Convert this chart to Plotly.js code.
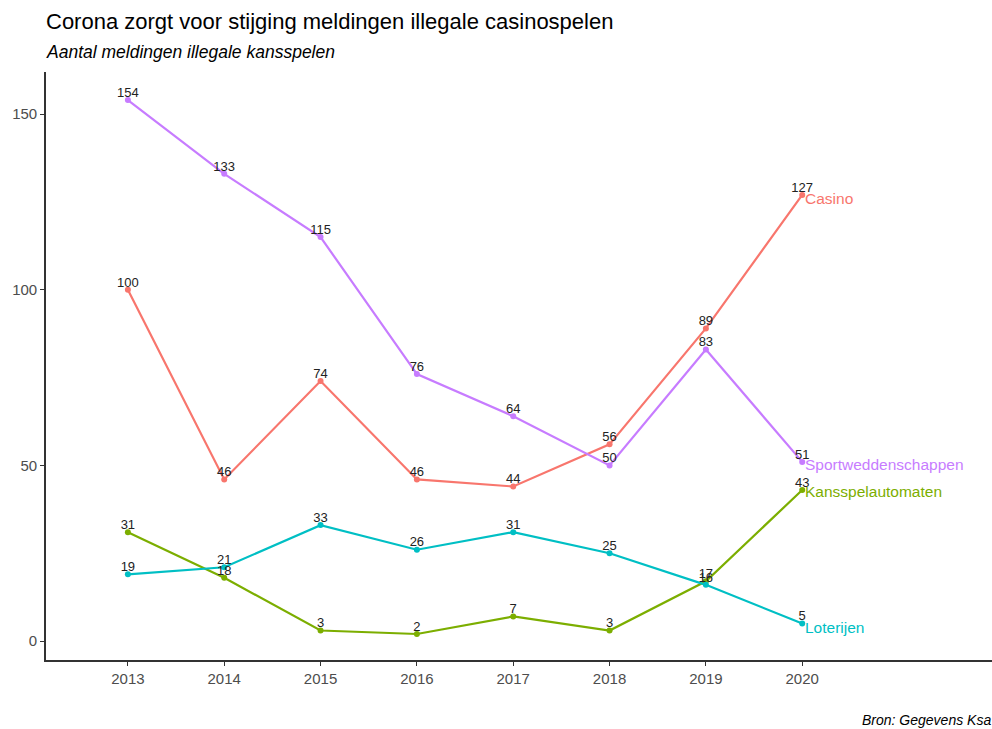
<!DOCTYPE html>
<html>
<head>
<meta charset="utf-8">
<script src="https://cdn.plot.ly/plotly-3.0.1.min.js"></script>
<style>
  html, body { margin: 0; padding: 0; background: #ffffff; }
  #chart { width: 992px; height: 729px; }
</style>
</head>
<body>
<div id="chart"></div>
<script>
const years = [2013, 2014, 2015, 2016, 2017, 2018, 2019, 2020];
const casino = [100, 46, 74, 46, 44, 56, 89, 127];
const kansspelautomaten = [31, 18, 3, 2, 7, 3, 17, 43];
const loterijen = [19, 21, 33, 26, 31, 25, 16, 5];
const sportweddenschappen = [154, 133, 115, 76, 64, 50, 83, 51];

const seriesNames = ['Casino', 'Kansspelautomaten', 'Loterijen', 'Sportweddenschappen'];
const seriesValues = [casino, kansspelautomaten, loterijen, sportweddenschappen];
const seriesColors = ['#F8766D', '#7CAE00', '#00BFC4', '#C77CFF'];
const labelShift = [-4, -2, -4, -3];

const fontFamily = '"Liberation Sans", Arial, sans-serif';

const traces = seriesNames.map((name, i) => ({
    x: years,
    y: seriesValues[i],
    name: name,
    type: 'scatter',
    mode: 'lines+markers',
    line: { color: seriesColors[i], width: 2.2 },
    marker: { color: seriesColors[i], size: 6 },
    hoverinfo: 'x+y+name',
    showlegend: false
}));

// value labels on top of all lines
const labelTraces = seriesNames.map((name, i) => ({
    x: years,
    y: seriesValues[i],
    type: 'scatter',
    mode: 'text',
    text: seriesValues[i].map(String),
    textposition: 'top center',
    textfont: { family: fontFamily, size: 13, color: '#222222' },
    hoverinfo: 'skip',
    showlegend: false
}));

const endLabels = seriesNames.map((name, i) => ({
    x: years[years.length - 1],
    y: seriesValues[i][seriesValues[i].length - 1],
    xref: 'x',
    yref: 'y',
    text: name,
    showarrow: false,
    xanchor: 'left',
    yanchor: 'middle',
    xshift: 1,
    yshift: labelShift[i],
    font: { family: fontFamily, size: 15.5, color: seriesColors[i] }
}));

const layout = {
    width: 992,
    height: 729,
    paper_bgcolor: '#ffffff',
    plot_bgcolor: '#ffffff',
    font: { family: fontFamily, color: '#4d4d4d' },
    margin: { l: 46, r: 0, t: 72, b: 69 },
    showlegend: false,
    xaxis: {
        range: [2012.15, 2021.97],
        tickvals: years,
        ticktext: years.map(String),
        showgrid: false,
        zeroline: false,
        showline: true,
        linecolor: '#333333',
        linewidth: 1.6,
        ticks: 'outside',
        ticklen: 4,
        tickcolor: '#333333',
        tickfont: { family: fontFamily, size: 15, color: '#4d4d4d' }
    },
    yaxis: {
        range: [-5.4, 162],
        tickvals: [0, 50, 100, 150],
        showgrid: false,
        zeroline: false,
        showline: true,
        linecolor: '#333333',
        linewidth: 1.6,
        ticks: 'outside',
        ticklen: 4,
        tickcolor: '#333333',
        tickfont: { family: fontFamily, size: 15, color: '#4d4d4d' }
    },
    annotations: endLabels.concat([
        {
            text: 'Corona zorgt voor stijging meldingen illegale casinospelen',
            xref: 'paper', yref: 'paper',
            x: 0, y: 1, xanchor: 'left', yanchor: 'bottom',
            xshift: -2, yshift: 36,
            showarrow: false,
            font: { family: fontFamily, size: 22, color: '#000000' }
        },
        {
            text: '<i>Aantal meldingen illegale kansspelen</i>',
            xref: 'paper', yref: 'paper',
            x: 0, y: 1, xanchor: 'left', yanchor: 'bottom',
            xshift: -2, yshift: 8,
            showarrow: false,
            font: { family: fontFamily, size: 17.5, color: '#000000' }
        },
        {
            text: '<i>Bron: Gegevens Ksa</i>',
            xref: 'paper', yref: 'paper',
            x: 0, y: 0, xanchor: 'left', yanchor: 'top',
            xshift: 814, yshift: -50,
            showarrow: false,
            font: { family: fontFamily, size: 14, color: '#000000' }
        }
    ])
};

Plotly.newPlot('chart', traces.concat(labelTraces), layout, { displayModeBar: false, responsive: false });
</script>
</body>
</html>
